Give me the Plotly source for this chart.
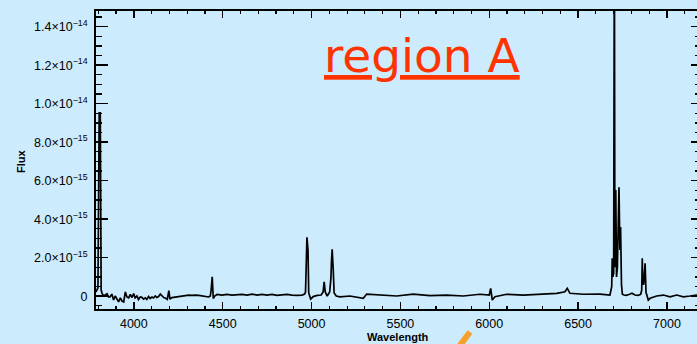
import plotly.graph_objects as go

# ---------------- data (flux in units of 1e-15) ----------------
wavelength = [
    3787, 3798, 3805, 3811, 3816, 3821, 3830, 3839, 3849, 3858, 3867, 3876, 3886, 3895,
    3905, 3914, 3924, 3933, 3943, 3952, 3961, 3971, 3980, 3990, 3999, 4007, 4017, 4026,
    4036, 4045, 4055, 4064, 4073, 4083, 4092, 4102, 4111, 4121, 4129, 4139, 4149, 4158,
    4168, 4176, 4188, 4197, 4203, 4214, 4233, 4252, 4271, 4290, 4309, 4327, 4346, 4365,
    4384, 4402, 4421, 4430, 4435, 4441, 4447, 4455, 4468, 4496, 4524, 4552, 4580, 4609,
    4637, 4665, 4693, 4721, 4749, 4777, 4805, 4834, 4862, 4890, 4918, 4946, 4961, 4966,
    4970, 4974, 4980, 4984, 4995, 5009, 5032, 5054, 5065, 5071, 5077, 5088, 5102, 5109,
    5112, 5116, 5122, 5127, 5139, 5160, 5216, 5291, 5310, 5385, 5479, 5572, 5666, 5760,
    5854, 5948, 6000, 6008, 6017, 6032, 6098, 6192, 6286, 6380, 6426, 6439, 6454, 6529,
    6623, 6650, 6679, 6689, 6692, 6696, 6700, 6704, 6707, 6712, 6716, 6721, 6730, 6735,
    6739, 6744, 6749, 6758, 6770, 6790, 6803, 6820, 6837, 6852, 6858, 6861, 6864, 6869,
    6877, 6882, 6888, 6895, 6905, 6942, 6980, 7017, 7055, 7092, 7130, 7167, 7200,
]
flux = [
    0.22, 0.43, 9.52, 9.52, 0.32, 0.15, 0.01, 0.06, 0.13, -0.04, -0.03, 0.11, -0.20, 0.01,
    -0.15, -0.29, -0.09, -0.25, -0.30, 0.22, -0.04, -0.09, 0.09, -0.07, 0.14, -0.09, 0.01, -0.17,
    -0.04, -0.06, -0.15, -0.09, -0.17, -0.02, -0.12, -0.04, -0.09, 0.01, -0.07, -0.02, 0.11, 0.01,
    -0.07, -0.09, -0.16, 0.29, -0.15, -0.07, -0.04, -0.02, 0.01, 0.04, 0.06, 0.04, 0.06, 0.04,
    0.01, -0.02, -0.04, 0.01, 0.32, 1.01, -0.12, 0.01, 0.09, 0.06, 0.09, 0.06, 0.09, 0.09,
    0.06, 0.11, 0.06, 0.09, 0.06, 0.09, 0.04, 0.06, 0.09, 0.06, 0.04, 0.06, 0.11, 0.22,
    1.57, 3.06, 2.40, 0.17, -0.15, -0.02, 0.04, 0.06, 0.22, 0.74, 0.22, 0.01, 0.22, 0.95,
    1.78, 2.44, 1.36, 0.17, 0.01, -0.03, 0.01, -0.11, 0.11, 0.06, 0.01, 0.11, 0.03, 0.06,
    0.01, 0.10, 0.06, 0.41, -0.20, -0.03, 0.10, 0.06, 0.10, 0.15, 0.23, 0.41, 0.15, 0.10,
    0.11, 0.08, 0.06, 0.49, 1.97, 1.01, 1.20, 19.0, 1.50, 5.52, 1.00, 1.50, 5.66, 2.40,
    3.60, 0.60, 0.10, 0.06, 0.04, 0.10, 0.15, 0.06, 0.04, 0.10, 0.32, 1.97, 0.68, 0.60,
    1.71, 0.20, 0.05, -0.20, -0.11, 0.01, 0.06, -0.03, 0.06, -0.03, 0.01, 0.06, 0.04,
]

x_tick_vals = [4000, 4500, 5000, 5500, 6000, 6500, 7000]
x_tick_text = ["4000", "4500", "5000", "5500", "6000", "6500", "7000"]
y_tick_vals = [0, 2, 4, 6, 8, 10, 12, 14]
y_tick_text = [
    "0",
    "2.0×10<sup>−15</sup>", "4.0×10<sup>−15</sup>", "6.0×10<sup>−15</sup>",
    "8.0×10<sup>−15</sup>", "1.0×10<sup>−14</sup>", "1.2×10<sup>−14</sup>",
    "1.4×10<sup>−14</sup>",
]
x_range = [3787, 7169]
y_range = [-0.665, 14.816]

BG = "#ccebfc"
FONT = "Liberation Sans, Arial, sans-serif"

fig = go.Figure()
fig.add_trace(go.Scatter(
    x=wavelength, y=flux, mode="lines",
    line=dict(color="black", width=1.7),
    showlegend=False, hoverinfo="skip",
))
fig.add_trace(go.Scatter(x=[], y=[], yaxis="y2", showlegend=False, hoverinfo="skip"))

fig.update_layout(
    template="none",
    width=697, height=344,
    margin=dict(l=96, r=0, t=11, b=35, autoexpand=False),
    paper_bgcolor=BG, plot_bgcolor=BG,
    font=dict(family=FONT, color="black", size=12.5),
    xaxis=dict(
        automargin=False,
        range=x_range, tickmode="array", tickvals=x_tick_vals, ticktext=x_tick_text,
        ticks="inside", ticklen=7, tickwidth=1.5, tickcolor="black",
        showline=True, linecolor="black", linewidth=2, mirror="ticks",
        showgrid=False, zeroline=False, ticklabelstandoff=2,
        minor=dict(tickmode="linear", tick0=0, dtick=100, ticks="inside",
                   ticklen=3, tickwidth=1.2, tickcolor="black", showgrid=False),
        tickfont=dict(size=12.5),
    ),
    yaxis=dict(
        automargin=False,
        range=y_range, tickmode="array", tickvals=y_tick_vals, ticktext=y_tick_text,
        ticks="inside", ticklen=12, tickwidth=1.5, tickcolor="black",
        showline=True, linecolor="black", linewidth=2, mirror=True,
        showgrid=False, zeroline=False, ticklabelstandoff=4,
        minor=dict(tickmode="linear", tick0=0, dtick=0.5, ticks="inside",
                   ticklen=6, tickwidth=1.2, tickcolor="black", showgrid=False),
        tickfont=dict(size=12.5),
    ),
    yaxis2=dict(
        automargin=False,
        range=y_range, overlaying="y", side="right", tickmode="array",
        tickvals=y_tick_vals, showticklabels=False,
        ticks="inside", ticklen=6, tickwidth=1.5, tickcolor="black",
        showline=False, showgrid=False, zeroline=False,
        minor=dict(tickmode="linear", tick0=0, dtick=0.5, ticks="inside",
                   ticklen=2, tickwidth=1.2, tickcolor="black", showgrid=False),
    ),
    annotations=[
        dict(text="<b>Flux</b>", xref="paper", yref="paper", x=-0.1248, y=0.4966,
             xanchor="center", yanchor="middle",
             showarrow=False, textangle=-90, font=dict(size=11, family=FONT)),
        dict(text="<b>Wavelength</b>", xref="paper", yref="paper", x=0.5025, y=-0.094,
             xanchor="center", yanchor="middle",
             showarrow=False, font=dict(size=11, family=FONT)),
        dict(text="<u>region A</u>", xref="paper", yref="paper", x=0.5416, y=0.852,
             xanchor="center", yanchor="middle",
             showarrow=False, font=dict(size=47, family="DejaVu Sans", color="#ff3300")),
    ],
    shapes=[
        dict(type="line", xref="paper", yref="paper",
             x0=0.6223, y0=-0.0772, x1=0.6023, y1=-0.1309,
             line=dict(color="#f6a02e", width=6)),
    ],
)

fig.write_html(
    "out.html",
    config={"displayModeBar": False, "staticPlot": True},
    post_script="document.body.style.margin='0';document.body.style.background='" + BG + "';",
)
